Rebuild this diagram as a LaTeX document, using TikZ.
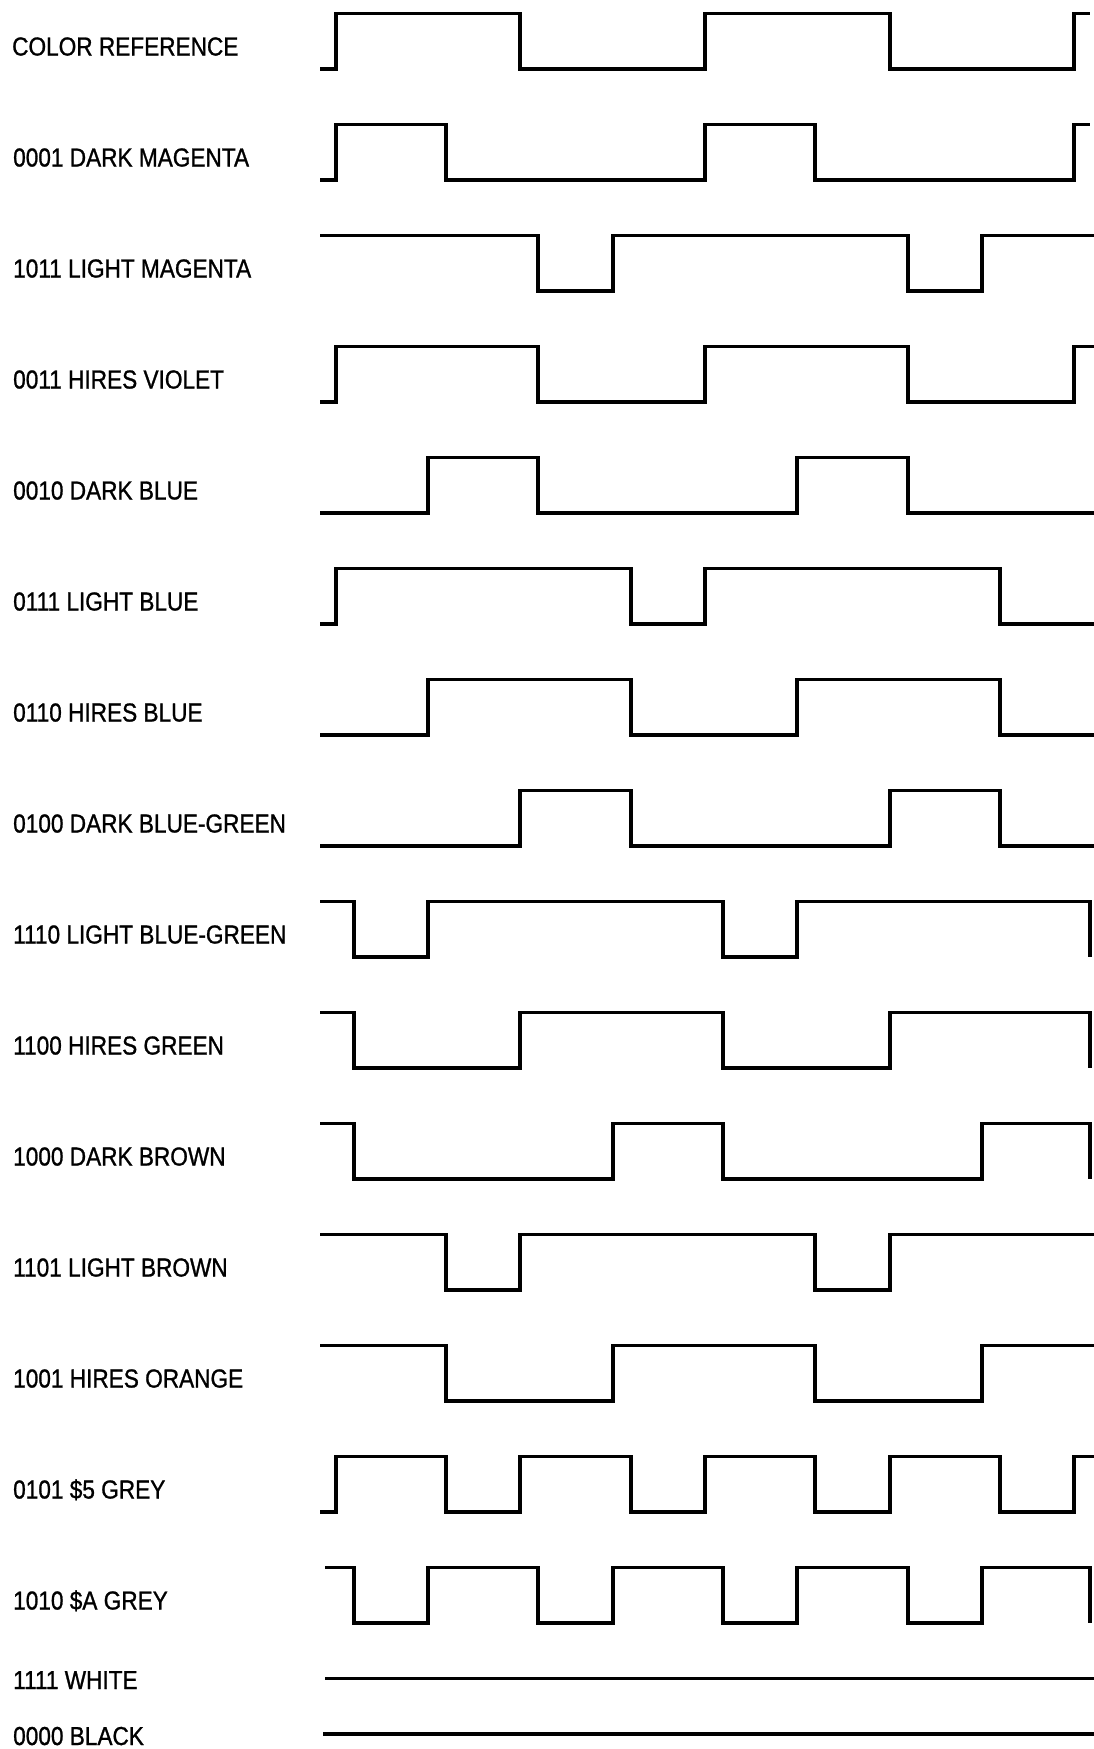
\documentclass[tikz,border=0pt]{standalone}
\usepackage{fontspec}
\newfontfamily\labelfont{Liberation Sans}[FakeStretch=0.87,FakeBold=1]

\begin{document}
\begin{tikzpicture}[x=1pt,y=-1pt]
\tikzset{
  wavelabel/.style={anchor=base west,inner sep=0pt,font=\labelfont\fontsize{26}{30}\selectfont},
  waveline/.style={draw=black,line width=3.3pt,line cap=butt,line join=miter}
}
\useasboundingbox (0,0) rectangle (1094,1749);
\node[wavelabel] (lbl_ref) at (12,55.5) {COLOR REFERENCE};
\node[wavelabel] (lbl_0001) at (13,166.5) {0001 DARK MAGENTA};
\node[wavelabel] (lbl_1011) at (13,277.5) {1011 LIGHT MAGENTA};
\node[wavelabel] (lbl_0011) at (13,388.5) {0011 HIRES VIOLET};
\node[wavelabel] (lbl_0010) at (13,499.5) {0010 DARK BLUE};
\node[wavelabel] (lbl_0111) at (13,610.5) {0111 LIGHT BLUE};
\node[wavelabel] (lbl_0110) at (13,721.5) {0110 HIRES BLUE};
\node[wavelabel] (lbl_0100) at (13,832.5) {0100 DARK BLUE-GREEN};
\node[wavelabel] (lbl_1110) at (13,943.5) {1110 LIGHT BLUE-GREEN};
\node[wavelabel] (lbl_1100) at (13,1054.5) {1100 HIRES GREEN};
\node[wavelabel] (lbl_1000) at (13,1165.5) {1000 DARK BROWN};
\node[wavelabel] (lbl_1101) at (13,1276.5) {1101 LIGHT BROWN};
\node[wavelabel] (lbl_1001) at (13,1387.5) {1001 HIRES ORANGE};
\node[wavelabel] (lbl_0101) at (13,1498.5) {0101 \$5 GREY};
\node[wavelabel] (lbl_1010) at (13,1609.5) {1010 \$A GREY};
\node[wavelabel] (lbl_1111) at (13,1689) {1111 WHITE};
\node[wavelabel] (lbl_0000) at (13,1745) {0000 BLACK};
% waveforms
\draw[waveline] (320,69) -| (336,13.5) -| (520,69) -| (705,13.5) -| (890,69) -| (1074,13.5) -- (1090,13.5);
\draw[waveline] (320,180) -| (336,124.5) -| (446,180) -| (705,124.5) -| (815,180) -| (1074,124.5) -- (1090,124.5);
\draw[waveline] (320,235.5) -| (538,291) -| (613,235.5) -| (908,291) -| (982,235.5) -- (1094,235.5);
\draw[waveline] (320,402) -| (336,346.5) -| (538,402) -| (705,346.5) -| (908,402) -| (1074,346.5) -- (1094,346.5);
\draw[waveline] (320,513) -| (428,457.5) -| (538,513) -| (797,457.5) -| (908,513) -- (1094,513);
\draw[waveline] (320,624) -| (336,568.5) -| (631,624) -| (705,568.5) -| (1000,624) -- (1094,624);
\draw[waveline] (320,735) -| (428,679.5) -| (631,735) -| (797,679.5) -| (1000,735) -- (1094,735);
\draw[waveline] (320,846) -| (520,790.5) -| (631,846) -| (890,790.5) -| (1000,846) -- (1094,846);
\draw[waveline] (320,901.5) -| (354,957) -| (428,901.5) -| (723,957) -| (797,901.5) -| (1090,957);
\draw[waveline] (320,1012.5) -| (354,1068) -| (520,1012.5) -| (723,1068) -| (890,1012.5) -| (1090,1068);
\draw[waveline] (320,1123.5) -| (354,1179) -| (613,1123.5) -| (723,1179) -| (982,1123.5) -| (1090,1179);
\draw[waveline] (320,1234.5) -| (446,1290) -| (520,1234.5) -| (815,1290) -| (890,1234.5) -- (1094,1234.5);
\draw[waveline] (320,1345.5) -| (446,1401) -| (613,1345.5) -| (815,1401) -| (982,1345.5) -- (1094,1345.5);
\draw[waveline] (320,1512) -| (336,1456.5) -| (446,1512) -| (520,1456.5) -| (631,1512) -| (705,1456.5) -| (815,1512) -| (890,1456.5) -| (1000,1512) -| (1074,1456.5) -- (1094,1456.5);
\draw[waveline] (325,1567.5) -| (354,1623) -| (428,1567.5) -| (538,1623) -| (613,1567.5) -| (723,1623) -| (797,1567.5) -| (908,1623) -| (982,1567.5) -| (1090,1623);
\draw[waveline] (325,1678.5) -- (1094,1678.5);
\draw[waveline] (323,1734) -- (1094,1734);
\end{tikzpicture}
\end{document}
